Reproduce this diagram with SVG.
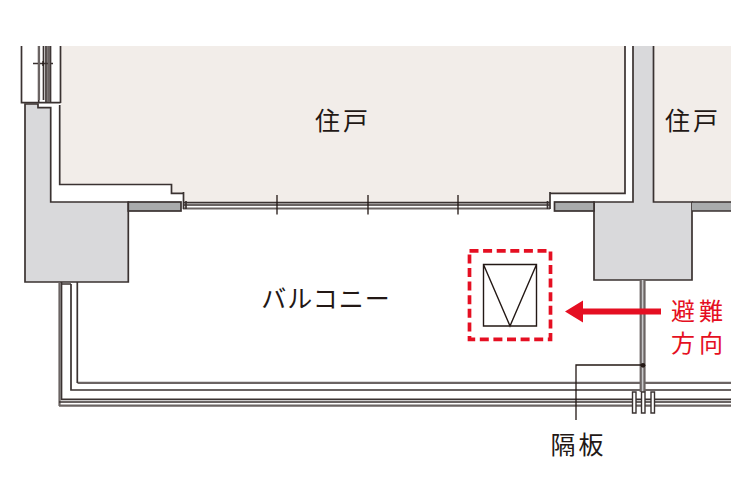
<svg xmlns="http://www.w3.org/2000/svg" width="752" height="502" viewBox="0 0 752 502">
<style>
.l{fill:none;stroke:#3a3231;stroke-width:1.7}
.t{fill:none;stroke:#231815;stroke-width:1.3}
.g{fill:none;stroke:#6b6463;stroke-width:2.2}
.wall{fill:#d9d9db;stroke:#3a3231;stroke-width:1.7}
.sill{fill:#a9abac;stroke:#3a3231;stroke-width:1.7}
.room{fill:#f2ede9}
text{font-family:"Noto Sans CJK JP","Noto Sans",sans-serif;font-size:25px;fill:#231815;text-anchor:middle}
.red{fill:#e50f22}
</style>
<rect width="752" height="502" fill="#fff"/>
<g id="room-left">
<path class="room" d="M61 46H625V193.500H550V202H184V193.500H171.500V184.500H60Z"/>
<path class="l" d="M59.700 105V184.500H171.500V193.300H183.500"/>
<path class="l" d="M60.500 46V103M625 46V193.300H550"/>
</g>
<g id="room-right"><path class="room" d="M654 46H731V202H654Z"/></g>
<g id="wall-left">
<path class="wall" d="M25 282V104H38V107.700H50.700V202H128.300V282Z"/>
<rect class="sill" x="128.300" y="202" width="52.700" height="9"/>
</g>
<g id="wall-right">
<path d="M594 202H633V46H653.500V202H692V280H594Z" fill="#d9d9db"/>
<path class="l" d="M633 46V202H594V280H692V202H653.500V46"/>
<rect class="sill" x="554.500" y="202" width="39.500" height="9"/>
<path d="M692 202H731V211H692Z" fill="#a9abac"/>
<path class="l" d="M692 202H731M692 211H731"/>
</g>
<g id="window-top-left">
<path class="l" d="M21.500 46V102.700H38M38.700 46V103M43.500 46V100M46 46V103M48.200 46V103M50.500 46V103M38 102.700H60.500M33 63.500H53"/>
<path class="g" d="M39 46V100M49 46V102"/>
<path class="t" d="M43 61V66"/>
</g>
<g id="sash">
<path class="l" d="M183 202.700H550M183 205H550"/>
<path class="g" d="M183 208.500H550"/>
<path class="l" d="M183.500 192V209M186 201V209M550 192V209M547.500 201V209"/>
<path class="t" d="M277 195V214.500M368 195V214.500M458 195V214.500"/>
</g>
<g id="balcony-rail">
<path class="g" d="M59.500 282V406M59 405.700H731M77.500 382.800H731"/>
<path class="l" d="M61.500 282V399.300H731M71 284V390H731M77.300 282V383M61 284H71M59 402H731"/>
<path d="M641 280H645V392H641Z" fill="#c9c9cb"/>
<path class="g" d="M640.700 280V392M644.500 280V392"/>
</g>
<g id="partition">
<path d="M632.500 392h3.500v21h-3.500zM641.500 392h3.500v21h-3.500zM651 392h3.500v21h-3.500z" fill="#fff" stroke="#3a3231" stroke-width="1.400"/>
</g>
<g id="leader">
<path class="t" d="M643 365H576V420"/>
<circle cx="643" cy="365.300" r="2.400" fill="#231815"/>
</g>
<g id="hatch">
<rect x="469.500" y="250.800" width="81" height="88.500" fill="none" stroke="#e50f22" stroke-width="3.700" stroke-dasharray="9 4.600"/>
<path d="M483.500 264.500H536.500V326H483.500ZM483.500 264.500L510 326L536.500 264.500" fill="none" stroke="#231815" stroke-width="1.400"/>
</g>
<g id="arrow">
<path class="red" d="M565 311.500L583 300.500V308.500H661V314.500H583V322.500Z"/>
</g>
<g id="labels">
<text x="343" y="130" letter-spacing="3">住戸</text>
<text x="693" y="130" letter-spacing="3">住戸</text>
<text x="326" y="308" letter-spacing="1">バルコニー</text>
<text class="red" x="699" y="320" font-size="24" style="font-size:24px" letter-spacing="4">避難</text>
<text class="red" x="699" y="352" font-size="24" style="font-size:24px" letter-spacing="4">方向</text>
<text x="578.500" y="454" letter-spacing="3">隔板</text>
</g>
</svg>
